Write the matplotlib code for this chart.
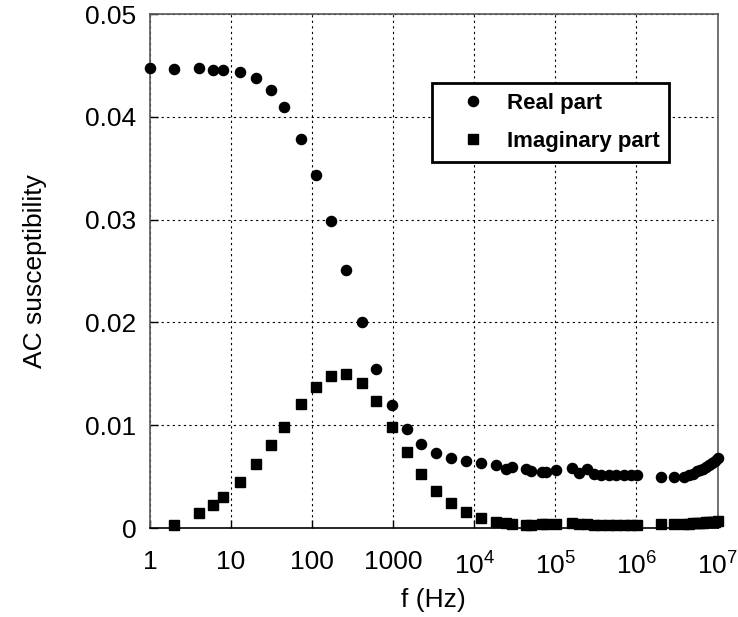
#=========================================================================
# ac-susceptibility vs frequency
#=========================================================================

import matplotlib
matplotlib.use('Agg')
import matplotlib.pyplot as plt
from matplotlib.ticker import FixedLocator, FixedFormatter, NullLocator

#-------------------------------------------------------------------------
# Configure matplotlib
#-------------------------------------------------------------------------

plt.rcParams['font.family']      = 'Liberation Sans'
plt.rcParams['mathtext.fontset'] = 'custom'
plt.rcParams['mathtext.rm']      = 'Liberation Sans'
plt.rcParams['font.size']        = 19

#-------------------------------------------------------------------------
# Raw data
#-------------------------------------------------------------------------

freq_real = [
  1, 2, 4, 6, 8, 13, 20, 31, 45, 72, 111, 169, 260, 406, 610, 953,
  1460, 2230, 3350, 5210, 7980, 12200, 18700, 24400, 29500, 43900,
  50600, 69200, 77600, 1.01e5, 1.62e5, 1.96e5, 2.45e5, 2.96e5, 3.69e5,
  4.58e5, 5.64e5, 6.95e5, 8.65e5, 1.01e6, 2.0e6, 2.9e6, 3.9e6, 4.5e6,
  5.0e6, 5.5e6, 6.0e6, 6.6e6, 7.25e6, 7.8e6, 8.5e6, 9.2e6, 1.0e7,
]

real_part = [
  0.04476, 0.04467, 0.04476, 0.0446, 0.0446, 0.04437, 0.0438, 0.0426,
  0.04096, 0.03788, 0.0343, 0.0299, 0.0251, 0.0200, 0.01548, 0.01195,
  0.0096, 0.00815, 0.00733, 0.0068, 0.0065, 0.0063, 0.0061, 0.0057,
  0.0059, 0.00574, 0.00558, 0.00548, 0.00548, 0.00565, 0.0058, 0.0054,
  0.0057, 0.0053, 0.0052, 0.0052, 0.0052, 0.0052, 0.0052, 0.0052,
  0.0050, 0.0050, 0.0050, 0.0052, 0.0053, 0.0055, 0.0056, 0.00575,
  0.0059, 0.0061, 0.0063, 0.0065, 0.0068,
]

freq_imag = freq_real[1:]

imag_part = [
  0.0003, 0.0015, 0.00224, 0.0030, 0.00448, 0.0062, 0.00805, 0.0098,
  0.01207, 0.0137, 0.0148, 0.0150, 0.0141, 0.0124, 0.0098, 0.0074,
  0.0053, 0.0036, 0.0024, 0.0016, 0.00094, 0.00055, 0.00045, 0.0004,
  0.0003, 0.0003, 0.00035, 0.00035, 0.0004, 0.0005, 0.0004, 0.0004,
  0.0003, 0.0003, 0.0003, 0.00025, 0.0003, 0.0003, 0.0003, 0.00035,
  0.0004, 0.0004, 0.0004, 0.00045, 0.00045, 0.0005, 0.0005, 0.00055,
  0.00055, 0.0006, 0.0006, 0.00065,
]

xtick_vals   = [1, 10, 100, 1000, 1e4, 1e5, 1e6, 1e7]
xtick_labels = ['1', '10', '100', '1000',
                r'$10^4$', r'$10^5$', r'$10^6$', r'$10^7$']
ytick_vals   = [0, 0.01, 0.02, 0.03, 0.04, 0.05]
ytick_labels = ['0', '0.01', '0.02', '0.03', '0.04', '0.05']

#-------------------------------------------------------------------------
# Create plot
#-------------------------------------------------------------------------

fig = plt.figure(figsize=(7.38, 6.17), dpi=100)
ax  = fig.add_axes([0.2033, 0.1442, 0.769, 0.833])

ax.plot(freq_real, real_part, 'o', color='black', ms=7.3,
        label='Real part', clip_on=False, zorder=3)
ax.plot(freq_imag, imag_part, 's', color='black', ms=7.8,
        label='Imaginary part', clip_on=False, zorder=3)

ax.set_xscale('log')
ax.set_xlim(1, 1e7)
ax.set_ylim(0, 0.05)

ax.xaxis.set_major_locator(FixedLocator(xtick_vals))
ax.xaxis.set_major_formatter(FixedFormatter(xtick_labels))
ax.xaxis.set_minor_locator(NullLocator())
ax.yaxis.set_major_locator(FixedLocator(ytick_vals))
ax.yaxis.set_major_formatter(FixedFormatter(ytick_labels))

ax.tick_params(direction='in', length=6, width=1, labelsize=19, pad=10)
ax.tick_params(axis='x', pad=16)

ax.set_xlabel('f (Hz)', fontsize=19, labelpad=7)
ax.set_ylabel('AC susceptibility', fontsize=19, labelpad=27)

# Grid and spines

ax.grid(True, which='major', color='black', linestyle=(0, (2, 3)),
        linewidth=0.8)
ax.set_axisbelow(True)
for side in ['left', 'right', 'top']:
  ax.spines[side].set_color('0.35')
  ax.spines[side].set_linewidth(1.2)
ax.spines['bottom'].set_color('black')
ax.spines['bottom'].set_linewidth(1.2)

# Legend

legend = ax.legend(loc='upper left', bbox_to_anchor=(0.497, 0.866),
                   frameon=True, fancybox=False, borderpad=0.45,
                   handlelength=2.8, handletextpad=0.1, labelspacing=0.75,
                   borderaxespad=0, prop={'size': 16, 'weight': 'bold'})
legend.get_frame().set_edgecolor('black')
legend.get_frame().set_linewidth(2)
legend.get_frame().set_alpha(1)

plt.savefig('out.png', dpi=100)
